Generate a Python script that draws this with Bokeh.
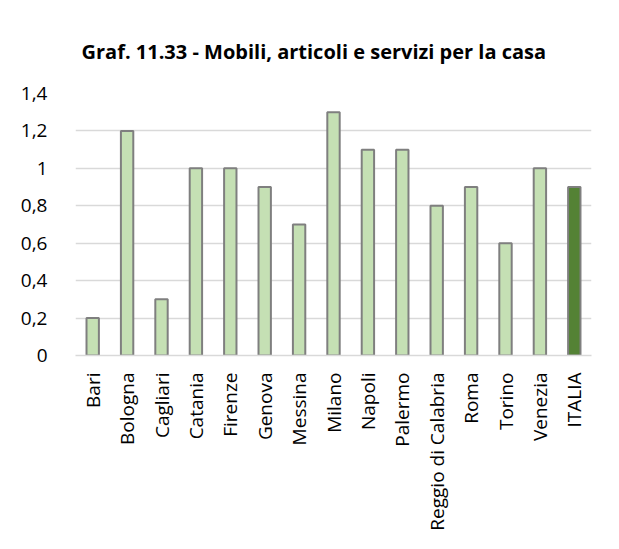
from bokeh.plotting import figure
from bokeh.models import ColumnDataSource, FixedTicker, CustomJSTickFormatter
from bokeh.embed import file_html
from bokeh.resources import INLINE

cities = ["Bari", "Bologna", "Cagliari", "Catania", "Firenze", "Genova", "Messina",
          "Milano", "Napoli", "Palermo", "Reggio di Calabria", "Roma", "Torino",
          "Venezia", "ITALIA"]
values = [0.2, 1.2, 0.3, 1.0, 1.0, 0.9, 0.7, 1.3, 1.1, 1.1, 0.8, 0.9, 0.6, 1.0, 0.9]
colors = ["#c5e0b4"] * 14 + ["#548235"]
y_ticks = [0, 0.2, 0.4, 0.6, 0.8, 1.0, 1.2, 1.4]

src = ColumnDataSource(dict(x=cities, top=values, color=colors))

p = figure(x_range=cities, y_range=(0, 1.4), width=603, height=533,
           output_backend="svg", toolbar_location=None,
           min_border_left=75, min_border_right=12, min_border_top=93,
           min_border_bottom=167)
p.border_fill_color = "white"

p.vbar(x="x", top="top", width=0.36, source=src, fill_color="color",
       line_color="#7f7f7f", line_width=2)

p.title.text = "Graf. 11.33 - Mobili, articoli e servizi per la casa"
p.title.text_font = "Open Sans"
p.title.text_font_size = "20px"
p.title.text_font_style = "bold"
p.title.text_color = "#000000"
p.title.align = "left"
p.title.offset = 6
p.title.standoff = 57

p.outline_line_color = None
p.xgrid.grid_line_color = None
p.ygrid.grid_line_color = "#d9d9d9"
p.ygrid.grid_line_width = 1.5

p.yaxis.ticker = FixedTicker(ticks=y_ticks)
p.yaxis.formatter = CustomJSTickFormatter(code="return Number(tick.toFixed(1)).toString().replace('.', ',');")
p.yaxis.axis_line_color = None
p.yaxis.major_tick_line_color = None
p.yaxis.minor_tick_line_color = None
p.yaxis.major_label_text_font = "Open Sans"
p.yaxis.major_label_text_font_size = "19px"
p.yaxis.major_label_text_color = "#000000"
p.yaxis.major_label_standoff = 22

p.xaxis.axis_line_color = "#d9d9d9"
p.xaxis.axis_line_width = 1.5
p.xaxis.major_tick_line_color = None
p.xaxis.minor_tick_line_color = None
p.xaxis.major_label_orientation = 1.5708
p.xaxis.major_label_text_font = "Open Sans"
p.xaxis.major_label_text_font_size = "19px"
p.xaxis.major_label_text_color = "#000000"
p.xaxis.major_label_standoff = 11
p.x_range.range_padding = 0

open("out.html", "w").write(file_html(p, INLINE))
